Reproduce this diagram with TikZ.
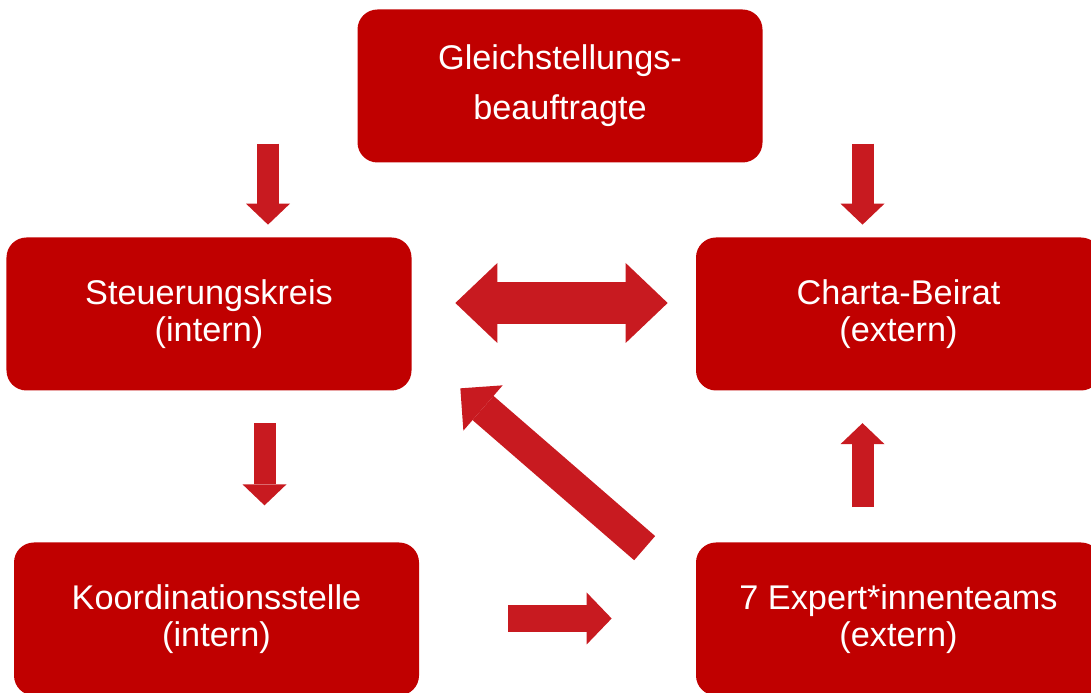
\documentclass[tikz,border=0pt]{standalone}
\usepackage{fontspec}
\setmainfont{Liberation Sans}
\usetikzlibrary{arrows.meta}
\definecolor{boxrot}{RGB}{192,0,0}
\definecolor{pfeilrot}{RGB}{200,26,32}

\begin{document}
\begin{tikzpicture}
  \tikzset{kasten/.style = {shape=rectangle,rounded corners=0.4cm,fill=boxrot,text=white,minimum width=8.1cm,minimum height=3.06cm,align=center,font=\fontsize{19.5}{21}\selectfont}}
  \tikzset{pfeil/.style = {draw=pfeilrot,line width=0.44cm,-{Triangle[line width=0pt,width=0.88cm,length=0.42cm]}}}
  \useasboundingbox (0,0) rectangle (21.82,13.86);

	\node[kasten,font=\fontsize{19.5}{28.5}\selectfont] (gleich) at (11.2,12.14) {Gleichstellungs-\\beauftragte};

	\node[kasten] (steu) at (4.18,7.58) {Steuerungskreis\\(intern)};
	\node[kasten] (beirat) at (17.97,7.58) {Charta-Beirat\\(extern)};

	\node[kasten] (koord) at (4.33,1.48) {Koordinationsstelle\\(intern)};
	\node[kasten] (experts) at (17.97,1.48) {7 Expert*innenteams\\(extern)};

	% kleine Pfeile
	\coordinate (p1) at ([xshift=1.18cm,yshift=1.87cm]steu.north);
	\coordinate (q1) at ([xshift=1.18cm,yshift=0.25cm]steu.north);
	\coordinate (p2) at ([xshift=-0.72cm,yshift=1.87cm]beirat.north);
	\coordinate (q2) at ([xshift=-0.72cm,yshift=0.25cm]beirat.north);
	\coordinate (p3) at ([xshift=1.11cm,yshift=-0.65cm]steu.south);
	\coordinate (q3) at ([xshift=1.11cm,yshift=-2.29cm]steu.south);
	\coordinate (p4) at ([xshift=-0.72cm,yshift=0.7cm]experts.north);
	\coordinate (q4) at ([xshift=-0.72cm,yshift=2.38cm]experts.north);

    \foreach \from/\to in {p1/q1,p2/q2,p3/q3,p4/q4}
    \draw[pfeil] (\from) -- (\to);

	% grosse Pfeile
	\draw[draw=pfeilrot,line width=0.84cm,{Triangle[line width=0pt,width=1.6cm,length=0.84cm]}-{Triangle[line width=0pt,width=1.6cm,length=0.84cm]}]
	  ([xshift=0.87cm,yshift=0.22cm]steu.east) -- ([xshift=-0.56cm,yshift=0.22cm]beirat.west);
	\draw[pfeil,line width=0.64cm,-{Triangle[line width=0pt,width=1.2cm,length=0.6cm]}]
	  ([xshift=-1.02cm,yshift=-0.12cm]experts.north west) -- ([xshift=0.97cm,yshift=0.05cm]steu.south east);
	\draw[pfeil,line width=0.54cm,-{Triangle[line width=0pt,width=1.04cm,length=0.5cm]}]
	  ([xshift=1.78cm,yshift=0.01cm]koord.east) -- ([xshift=-1.68cm,yshift=0.01cm]experts.west);
\end{tikzpicture}
\end{document}
